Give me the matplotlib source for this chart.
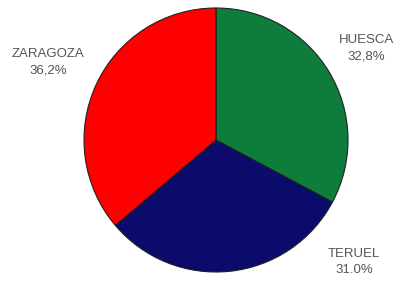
import matplotlib
matplotlib.use("Agg")
import matplotlib.pyplot as plt

provincias = ["HUESCA", "TERUEL", "ZARAGOZA"]
porcentajes = [32.8, 31.0, 36.2]
etiquetas = ["32,8%", "31.0%", "36,2%"]
colores = ["#0e7d3c", "#0b0b6b", "#ff0000"]

fig = plt.figure(figsize=(3.98, 2.81), dpi=100)
ax = fig.add_axes([0, 0, 1, 1])
ax.set_xlim(0, 398)
ax.set_ylim(0, 281)
ax.axis("off")

ax.pie(porcentajes, colors=colores, startangle=90, counterclock=False,
       center=(216, 141), radius=132, frame=True,
       wedgeprops=dict(edgecolor="#202020", linewidth=0.8))
ax.set_xlim(0, 398)
ax.set_ylim(0, 281)
ax.set_aspect("equal")
ax.axis("off")

# posiciones de las etiquetas (pixeles)
pos = {"HUESCA": (366, 233), "TERUEL": (354, 19), "ZARAGOZA": (48, 219)}
for nombre, texto in zip(provincias, etiquetas):
    x, y = pos[nombre]
    ax.text(x, y, nombre + "\n" + texto, ha="center", va="center",
            fontsize=9.5, color="#555555", family="Liberation Sans",
            linespacing=1.45)

fig.savefig("out.png", dpi=100)
